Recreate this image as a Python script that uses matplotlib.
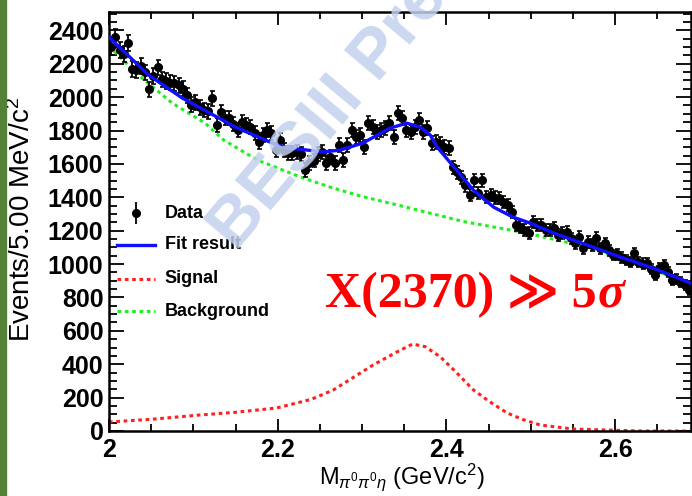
import numpy as np
import matplotlib
matplotlib.use("Agg")
import matplotlib.pyplot as plt
from matplotlib.patches import Rectangle
from matplotlib.ticker import MultipleLocator

plt.rcParams['font.family'] = ['Liberation Sans', 'DejaVu Sans']
plt.rcParams['mathtext.fontset'] = 'custom'
plt.rcParams['mathtext.rm'] = 'Liberation Sans'
plt.rcParams['mathtext.it'] = 'Liberation Sans:italic'

# data: 5 MeV bins from 2.000 to 2.690 GeV
bin_lo = 2.0
bin_w = 0.005
counts = [
    2300, 2360, 2280, 2260, 2325, 2168, 2163, 2188, 2148, 2046,
    2127, 2178, 2107, 2097, 2087, 2082, 2072, 2051, 2011, 1955,
    1969, 1940, 1922, 1915, 1994, 1832, 1910, 1874, 1874, 1839,
    1802, 1850, 1832, 1820, 1783, 1730, 1772, 1802, 1784, 1683,
    1742, 1682, 1665, 1665, 1671, 1660, 1563, 1605, 1620, 1660,
    1671, 1605, 1641, 1605, 1712, 1623, 1712, 1802, 1763, 1772,
    1701, 1844, 1820, 1790, 1803, 1813, 1844, 1761, 1904, 1874,
    1802, 1790, 1820, 1862, 1790, 1813, 1724, 1730, 1722, 1701,
    1694, 1580, 1551, 1521, 1473, 1413, 1502, 1425, 1502, 1401,
    1413, 1398, 1395, 1371, 1353, 1311, 1233, 1222, 1203, 1185,
    1251, 1236, 1233, 1203, 1205, 1216, 1173, 1185, 1191, 1155,
    1125, 1162, 1096, 1132, 1114, 1156, 1096, 1125, 1084, 1054,
    1059, 1041, 1024, 1013, 1066, 1012, 1003, 1006, 972, 934,
    976, 994, 952, 904, 912, 892, 874, 844,
]

fit_x = [2.000, 2.047, 2.087, 2.150, 2.199, 2.215, 2.254, 2.274, 2.301, 2.333,
         2.353, 2.369, 2.381, 2.389, 2.405, 2.425, 2.432, 2.456, 2.479, 2.499,
         2.527, 2.567, 2.606, 2.645, 2.690]
fit_y = [2359, 2132, 1994, 1820, 1713, 1695, 1671, 1683, 1725, 1814,
         1844, 1820, 1772, 1701, 1605, 1485, 1443, 1341, 1281, 1246,
         1186, 1114, 1042, 976, 885]

bkg_x = [2.000, 2.035, 2.075, 2.114, 2.136, 2.176, 2.227, 2.262, 2.300, 2.345,
         2.420, 2.495, 2.567, 2.645, 2.690]
bkg_y = [2305, 2132, 1964, 1844, 1743, 1623, 1521, 1461, 1405, 1350,
         1255, 1186, 1102, 964, 885]

sig_x = [2.000, 2.050, 2.108, 2.150, 2.199, 2.240, 2.266, 2.313, 2.340, 2.360,
         2.375, 2.393, 2.410, 2.432, 2.450, 2.472, 2.490, 2.511, 2.550, 2.629, 2.690]
sig_y = [54, 70, 96, 112, 138, 190, 246, 395, 470, 521,
         505, 443, 360, 246, 180, 108, 70, 36, 12, 0, 0]

centers = [bin_lo + bin_w * (i + 0.5) for i in range(len(counts))]
errors = np.sqrt(counts)

fig = plt.figure(figsize=(6.92, 4.96), dpi=100)
ax = fig.add_axes([109 / 692, 65 / 496, 582 / 692, 419 / 496])

ax.plot(bkg_x, bkg_y, color='#22ee22', lw=2.2, ls=(0, (1.2, 1.2)), zorder=2)
ax.plot(sig_x, sig_y, color='#ff2020', lw=2.2, ls=(0, (1.2, 1.2)), zorder=2)
ax.errorbar(centers, counts, yerr=errors, fmt='o', color='black', ms=5.5,
            elinewidth=1.3, capsize=1.8, capthick=1.2, zorder=3)
ax.plot(fit_x, fit_y, color='#1010ff', lw=2.4, zorder=4)

ax.set_xlim(2.0, 2.69)
ax.set_ylim(0, 2510)
ax.xaxis.set_major_locator(MultipleLocator(0.2))
ax.xaxis.set_minor_locator(MultipleLocator(0.05))
ax.yaxis.set_major_locator(MultipleLocator(200))
ax.yaxis.set_minor_locator(MultipleLocator(50))
ax.xaxis.set_major_formatter(matplotlib.ticker.FuncFormatter(lambda v, p: '%g' % round(v, 2)))
ax.tick_params(which='both', direction='in', top=True, right=True, width=1.3)
ax.tick_params(axis='y', which='major', length=11, labelsize=18, pad=4)
ax.tick_params(axis='y', which='minor', length=6)
ax.tick_params(axis='x', which='major', length=9, labelsize=18, pad=5)
ax.tick_params(axis='x', which='minor', length=5)
for lab in ax.get_xticklabels() + ax.get_yticklabels():
    lab.set_fontweight('bold')
for s in ax.spines.values():
    s.set_linewidth(1.8)

ax.set_ylabel('Events/5.00 MeV/c$^2$', fontsize=20, va='center')
ax.yaxis.set_label_coords(-0.150, 0.506)
ax.set_xlabel(r'M$_{\pi^0\pi^0\eta}$ (GeV/c$^2$)', fontsize=17)
ax.xaxis.set_label_coords(0.503, -0.072)

# legend
tr = ax.transAxes
ax.errorbar([0.0464], [0.520], yerr=[0.026], fmt='o', color='black', ms=5.5,
            elinewidth=1.3, transform=tr, clip_on=False)
ax.plot([0.014, 0.079], [0.444, 0.444], color='#1010ff', lw=2.4, transform=tr)
ax.plot([0.014, 0.079], [0.363, 0.363], color='#ff2020', lw=2.2,
        ls=(0, (1.2, 1.2)), transform=tr)
ax.plot([0.014, 0.079], [0.286, 0.286], color='#22ee22', lw=2.2,
        ls=(0, (1.2, 1.2)), transform=tr)
for yy, lab in zip([0.520, 0.444, 0.363, 0.286],
                   ['Data', 'Fit result', 'Signal', 'Background']):
    ax.text(0.096, yy, lab, transform=tr, fontsize=13, fontweight='bold',
            va='center', ha='left')

red_fam = ['Liberation Serif', 'DejaVu Sans']
t1 = ax.text(0.371, 0.325, 'X(2370) \u226b 5', transform=tr, fontsize=36,
             fontweight='bold', color='#ff0000', va='center', ha='left',
             family=red_fam)
ax.annotate('\u03c3', xy=(1, 0), xycoords=t1, xytext=(1, 0), textcoords='offset points',
            fontsize=36, fontweight='bold', fontstyle='italic', color='#ff0000',
            va='bottom', ha='left', family=red_fam)

# watermark (cut by the top edge, as in the original)
fig.text(236 / 692, 1 - 252 / 496, 'BESIII Preliminary', fontsize=50,
         fontweight='bold', color='#c3d1ee', alpha=0.85, rotation=50,
         rotation_mode='anchor', ha='left', va='baseline', zorder=10)

fig.patches.append(Rectangle((0, 0), 6 / 692, 1, transform=fig.transFigure,
                             color='#538135', zorder=0))

fig.savefig('out.png', dpi=100)
